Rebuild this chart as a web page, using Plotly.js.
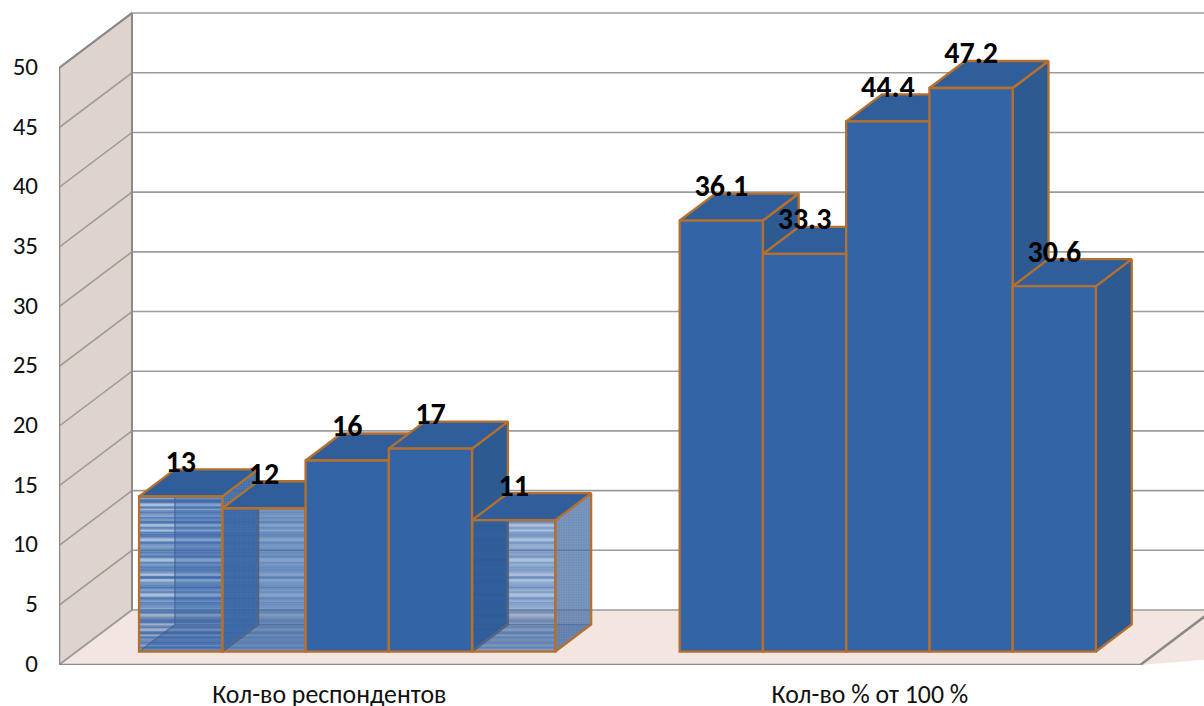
<!DOCTYPE html>
<html>
<head>
<meta charset="utf-8">
<script src="https://cdn.plot.ly/plotly-3.0.1.min.js"></script>
<style>html,body{margin:0;padding:0;background:#fff}</style>
</head>
<body>
<div id="chart" style="width:1204px;height:706px"></div>
<script>
// Survey results, one array per category
const categories = ["Кол-во респондентов", "Кол-во % от 100 %"];
const respondents = [13, 12, 16, 17, 11];
const percents = [36.1, 33.3, 44.4, 47.2, 30.6];
const valueTicks = [0, 5, 10, 15, 20, 25, 30, 35, 40, 45, 50];

// Oblique projection: depth z (0 front, 1 back) shifts a point right and up
const wallDx = 0.135, wallDy = 4.606;
const barW = 0.154, zFront = 0.245, zBack = 0.736;
const xMax = 2.118, yMax = 55.7;
const project = (x, v, z) => [x + z * wallDx, v + z * wallDy];

const colors = {
  front: "#3364a5", top: "#305e9a", side: "#2d5a90", edge: "#b5702e",
  wall: "#dfd3ce", floor: "#f3e5e0", grid: "#9c9c9c", axis: "#8a8a8a"
};

// Projected outline helper: returns a scatter trace through the given 3D corners
function face(corners, opts) {
  const pts = corners.map(c => project(c[0], c[1], c[2]));
  const closed = opts.open ? pts : pts.concat([pts[0]]);
  const t = {
    type: "scatter", mode: "lines", hoverinfo: "skip", showlegend: false,
    x: closed.map(p => p[0]), y: closed.map(p => p[1]),
    line: { color: opts.line || "rgba(0,0,0,0)", width: opts.width === undefined ? 2.3 : opts.width }
  };
  if (!opts.open) { t.fill = "toself"; t.fillcolor = opts.fill; }
  if (opts.pattern) t.fillpattern = opts.pattern;
  return t;
}

const traces = [];

// Side wall and floor
traces.push(face([[0,0,0],[0,0,1],[0,50,1],[0,50,0]], { fill: colors.wall, line: colors.grid, width: 2 }));
traces.push(face([[0,0,0],[0,0,1],[xMax+1,0,1],[2,0,0]], { fill: colors.floor, line: "rgba(0,0,0,0)" }));

// Gridlines run along the side wall and across the back wall
valueTicks.forEach(v => {
  traces.push(face([[0,v,0],[0,v,1],[xMax+1,v,1]], { open: true, line: colors.grid, width: 1.6 }));
});

// Axis edges
traces.push(face([[0,50,0],[0,0,0],[2,0,0],[2,0,1]], { open: true, line: colors.axis, width: 2.6 }));
traces.push(face([[0,50,0],[0,50,1],[0,0,1]], { open: true, line: colors.axis, width: 1.8 }));

// Which bars are drawn see-through, with their own opacity per face
const glassBars = [0, 1, 4];
const glassStyle = {
  0: { front: 0.42, back: 0.35, bottom: 0.5, stripes: 0.85, side: "rgba(52,100,162,0.90)" },
  1: { front: 0.42, back: 0.30, bottom: 0.45, stripes: 0.42, side: "rgba(58,105,165,0.85)" },
  4: { front: 0.30, back: 0.14, bottom: 0.40, stripes: 0.45, side: "rgba(66,106,160,0.72)" }
};
const barX = [], barV = [], barGlass = [];
[respondents, percents].forEach((vals, g) => {
  vals.forEach((v, i) => {
    barX.push(g + 0.5 + (i - 2.5) * barW);
    barV.push(v);
    barGlass.push(g === 0 && glassBars.includes(i));
  });
});

// Back and bottom faces of see-through bars, top and side of every bar, left to right
barX.forEach((x0, i) => {
  const v = barV[i], x1 = x0 + barW;
  if (barGlass[i]) {
    const st = glassStyle[i];
    traces.push(face([[x0,0,zFront],[x1,0,zFront],[x1,0,zBack],[x0,0,zBack]],
      { fill: "rgba(51,100,165," + st.bottom + ")", line: "rgba(0,0,0,0)" }));
    traces.push(face([[x0,0,zBack],[x1,0,zBack],[x1,v,zBack],[x0,v,zBack]],
      { fill: "rgba(51,100,165," + st.back + ")", line: "rgba(0,0,0,0)" }));
    traces.push(face([[x0,0,zFront],[x0,0,zBack],[x0,v,zBack]], { open: true, line: "rgba(85,95,120,0.7)", width: 1.5 }));
    traces.push(face([[x0,0,zBack],[x1,0,zBack]], { open: true, line: "rgba(85,95,120,0.7)", width: 1.5 }));
    traces.push(face([[x1,0,zFront],[x1,0,zBack],[x1,v,zBack],[x1,v,zFront]], {
      fill: st.side, line: colors.edge,
      pattern: { shape: ".", size: 2.5, solidity: 0.35, fgcolor: "rgba(255,255,255,0.14)", bgcolor: st.side, fillmode: "replace" }
    }));
  } else {
    traces.push(face([[x1,0,zFront],[x1,0,zBack],[x1,v,zBack],[x1,v,zFront]], { fill: colors.side, line: colors.edge }));
  }
  traces.push(face([[x0,v,zFront],[x0,v,zBack],[x1,v,zBack],[x1,v,zFront]],
    { fill: colors.top, line: colors.edge }));
});

// Front faces are real bars on an overlaid pair of axes, above the top and side faces
const barBase = zFront * wallDy;
const barCenters = barX.map(x => project(x + barW / 2, 0, zFront)[0]);
const glassIdx = barV.map((_, i) => i).filter(i => barGlass[i]);
const barCommon = { type: "bar", xaxis: "x2", yaxis: "y2", base: barBase, width: barW, hoverinfo: "skip", showlegend: false };
traces.push(Object.assign({}, barCommon, {
  x: barCenters, y: barV,
  marker: {
    color: barGlass.map((g, i) => g ? "rgba(51,100,165," + glassStyle[i].front + ")" : colors.front),
    line: { width: 0 }
  }
}));
// Irregular horizontal banding comes from stacking stripes of unrelated periods
const stripeLayers = [
  { size: 5, solidity: 0.4 },
  { size: 7, solidity: 0.35 },
  { size: 11, solidity: 0.3 },
  { size: 17, solidity: 0.2 }
];
stripeLayers.forEach(s => {
  traces.push(Object.assign({}, barCommon, {
    x: glassIdx.map(i => barCenters[i]), y: glassIdx.map(i => barV[i]),
    marker: { color: "rgba(0,0,0,0)", line: { width: 0 },
      pattern: { shape: "-", size: s.size, solidity: s.solidity,
        fgcolor: glassIdx.map(i => "rgba(48,96,165," + glassStyle[i].stripes + ")"),
        bgcolor: "rgba(0,0,0,0)", fillmode: "overlay" } }
  }));
});
traces.push(Object.assign({}, barCommon, {
  x: barCenters, y: barV,
  marker: { color: "rgba(0,0,0,0)", line: { color: colors.edge, width: 2.3 } }
}));

// Value labels sit just behind each bar's top
traces.push({
  type: "scatter", mode: "text", xaxis: "x2", yaxis: "y2", hoverinfo: "skip", showlegend: false,
  x: barCenters,
  y: barV.map(v => v + zBack * wallDy + 0.42),
  text: barV.map(String),
  textposition: "middle center",
  textfont: { family: "Carlito, Lato, 'Open Sans', sans-serif", size: 30, color: "#000", weight: 700 },
  cliponaxis: false
});

const layout = {
  width: 1204, height: 706, autosize: false,
  margin: { l: 59, r: 0, t: 0, b: 41, pad: 0 },
  paper_bgcolor: "#ffffff", plot_bgcolor: "#ffffff",
  showlegend: false, barmode: "overlay",
  font: { family: "Carlito, Lato, 'Open Sans', sans-serif", color: "#111", size: 25 },
  xaxis: {
    range: [0, xMax], tickmode: "array", tickvals: [0.5, 1.5], ticktext: categories,
    showgrid: false, zeroline: false, showline: false,
    ticks: "outside", ticklen: 6, tickcolor: "rgba(0,0,0,0)", tickfont: { size: 25.8 }
  },
  yaxis: {
    range: [0, yMax], tickmode: "array", tickvals: valueTicks, ticktext: valueTicks.map(String),
    showgrid: false, zeroline: false, showline: false, ticklabelshift: -2,
    ticks: "outside", ticklen: 15, tickcolor: "rgba(0,0,0,0)", tickfont: { size: 25 }
  },
  xaxis2: { overlaying: "x", range: [0, xMax], visible: false },
  yaxis2: { overlaying: "y", range: [0, yMax], visible: false }
};

Plotly.newPlot("chart", traces, layout, { displayModeBar: false, staticPlot: true });
</script>
</body>
</html>
